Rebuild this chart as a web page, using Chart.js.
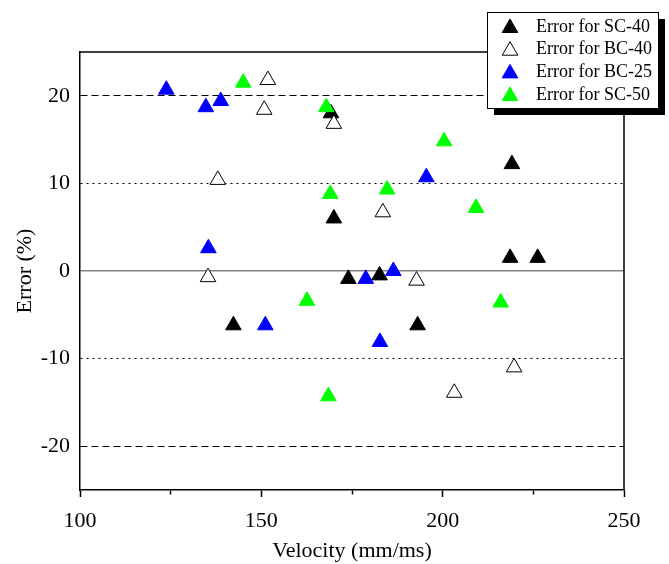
<!DOCTYPE html>
<html>
<head>
<meta charset="utf-8">
<script src="https://cdn.jsdelivr.net/npm/chart.js@4.4.1/dist/chart.umd.min.js"></script>
<style>
  html, body { margin: 0; padding: 0; background: #fff; }
  #wrap { width: 669px; height: 564px; }
</style>
</head>
<body>
<div id="wrap"><canvas id="grafico" width="669" height="564"></canvas></div>
<script>
// datos
const nombres = ['Error for SC-40', 'Error for BC-40', 'Error for BC-25', 'Error for SC-50'];

const sc40X = [169.2, 170.0, 142.3, 174.0, 182.6, 193.1, 219.1, 218.6, 226.2];
const sc40Y = [18.0, 6.0, -6.2, -0.9, -0.5, -6.2, 12.2, 1.5, 1.5];

const bc40X = [151.8, 150.8, 170.0, 138.0, 135.3, 192.8, 183.5, 219.7, 203.2];
const bc40Y = [21.8, 18.4, 16.8, 10.4, -0.7, -1.1, 6.7, -11.0, -13.9];

const bc25X = [123.8, 134.7, 138.8, 135.4, 151.1, 178.8, 186.4, 182.7, 195.5];
const bc25Y = [20.7, 18.7, 19.4, 2.6, -6.2, -0.9, 0.0, -8.1, 10.7];

const sc50X = [145.0, 167.9, 169.0, 162.6, 168.5, 216.0, 200.4, 184.7, 209.2];
const sc50Y = [21.5, 18.7, 8.8, -3.4, -14.3, -3.6, 14.8, 9.3, 7.2];

const xTicks = [100, 125, 150, 175, 200, 225, 250];
const yTicks = [-20, -10, 0, 10, 20];

const FUENTE = "'Liberation Serif', 'Times New Roman', serif";

const puntos = (xs, ys) => xs.map((x, i) => ({ x: x, y: ys[i] }));

function serie(i, xs, ys, relleno, borde, orden) {
    return {
        label: nombres[i],
        data: puntos(xs, ys),
        pointStyle: 'triangle',
        pointRadius: 9,
        pointHoverRadius: 9,
        backgroundColor: relleno,
        borderColor: borde,
        borderWidth: 1,
        order: orden
    };
}

// marco superior y derecho
const marco = {
    id: 'marco',
    beforeDatasetsDraw(chart) {
        const { ctx, chartArea: a } = chart;
        ctx.save();
        ctx.strokeStyle = '#000';
        ctx.lineWidth = 1.5;
        ctx.beginPath();
        ctx.moveTo(a.left, a.top);
        ctx.lineTo(a.right, a.top);
        ctx.lineTo(a.right, a.bottom);
        ctx.stroke();
        ctx.restore();
    }
};

// leyenda con sombra
const leyenda = {
    id: 'leyenda',
    afterDraw(chart) {
        const ctx = chart.ctx;
        const bx = 487, by = 12, bw = 171, bh = 96;
        ctx.save();
        ctx.fillStyle = '#000';
        ctx.fillRect(bx + 7, by + 7, bw, bh);
        ctx.fillStyle = '#fff';
        ctx.fillRect(bx, by, bw, bh);
        ctx.strokeStyle = '#000';
        ctx.lineWidth = 1;
        ctx.strokeRect(bx + 0.5, by + 0.5, bw, bh);
        ctx.font = '18px ' + FUENTE;
        ctx.textBaseline = 'middle';
        nombres.forEach((nombre, i) => {
            const ds = chart.data.datasets.find(d => d.label === nombre);
            const cy = by + 15 + i * 22.7;
            const r = 9;
            ctx.fillStyle = ds.backgroundColor;
            ctx.strokeStyle = ds.borderColor;
            ctx.lineWidth = 1;
            ctx.beginPath();
            ctx.moveTo(510, cy + 1 - r);
            ctx.lineTo(510 + r * Math.sin(2 * Math.PI / 3), cy + 1 + r / 2);
            ctx.lineTo(510 - r * Math.sin(2 * Math.PI / 3), cy + 1 + r / 2);
            ctx.closePath();
            ctx.fill();
            ctx.stroke();
            ctx.fillStyle = '#000';
            ctx.fillText(nombre, 536, cy);
        });
        ctx.restore();
    }
};

const estiloLinea = (ctx) => {
    if (!ctx.tick) return [];
    const v = Math.abs(ctx.tick.value);
    if (v === 20) return [7, 4];
    if (v === 10) return [2, 4];
    return [];
};

new Chart(document.getElementById('grafico'), {
    type: 'scatter',
    data: {
        datasets: [
            serie(0, sc40X, sc40Y, '#000000', '#000000', 4),
            serie(1, bc40X, bc40Y, '#ffffff', '#000000', 3),
            serie(2, bc25X, bc25Y, '#0000ff', '#0000ff', 2),
            serie(3, sc50X, sc50Y, '#00ff00', '#00ff00', 1)
        ]
    },
    options: {
        responsive: false,
        devicePixelRatio: 1,
        animation: false,
        layout: { padding: { left: 0, top: 52, right: 45, bottom: 0 } },
        plugins: { legend: { display: false }, tooltip: { enabled: false } },
        scales: {
            x: {
                type: 'linear',
                min: 100, max: 250,
                afterBuildTicks: (s) => { s.ticks = xTicks.map(v => ({ value: v })); },
                afterFit: (s) => { s.height = 74; },
                grid: {
                    drawOnChartArea: false,
                    drawTicks: true,
                    tickLength: 7,
                    tickColor: '#000',
                    tickWidth: 1.5,
                    tickBorderDash: (ctx) => (ctx.tick && ctx.tick.value % 50 !== 0) ? [4, 30] : []
                },
                border: { display: true, color: '#000', width: 1.5 },
                ticks: {
                    autoSkip: false,
                    maxRotation: 0,
                    color: '#000',
                    padding: 11,
                    font: { family: FUENTE, size: 22 },
                    callback: (v) => (v % 50 === 0 ? String(v) : '')
                },
                title: {
                    display: true,
                    text: 'Velocity (mm/ms)',
                    color: '#000',
                    font: { family: FUENTE, size: 22 },
                    padding: { top: 0, bottom: 0 }
                }
            },
            y: {
                type: 'linear',
                min: -25, max: 25,
                afterBuildTicks: (s) => { s.ticks = yTicks.map(v => ({ value: v })); },
                afterFit: (s) => { s.width = 80; },
                grid: {
                    drawTicks: false,
                    color: (ctx) => (ctx.tick && ctx.tick.value === 0) ? '#808080' : '#000',
                    lineWidth: (ctx) => (ctx.tick && ctx.tick.value === 0) ? 1.5 : 1
                },
                border: { display: true, color: '#000', width: 1.5, dash: estiloLinea },
                ticks: {
                    color: '#000',
                    padding: 10,
                    font: { family: FUENTE, size: 22 },
                    callback: (v) => String(v)
                },
                title: {
                    display: true,
                    text: 'Error (%)',
                    color: '#000',
                    font: { family: FUENTE, size: 22 },
                    padding: { top: 12, bottom: 0 }
                }
            }
        }
    },
    plugins: [marco, leyenda]
});
</script>
</body>
</html>
